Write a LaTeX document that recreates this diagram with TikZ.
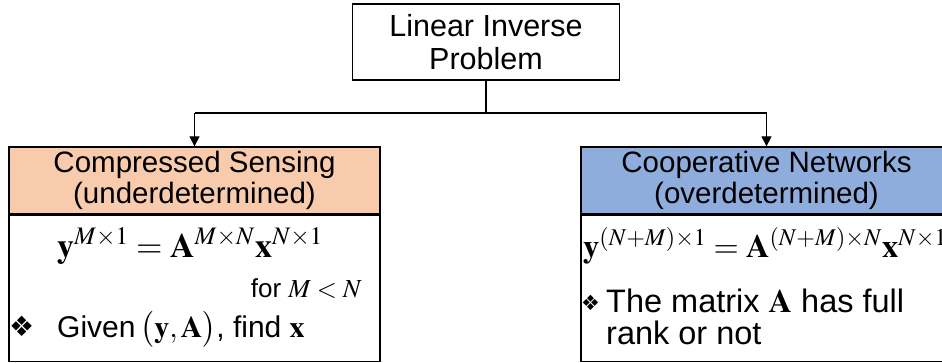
\documentclass[tikz,border=0pt]{standalone}
\usepackage{mathptmx}
\usepackage[no-math]{fontspec}
\setmainfont{Liberation Sans}
\newfontfamily\symfont{DejaVu Sans}
\usetikzlibrary{arrows.meta}

\definecolor{peach}{RGB}{248,203,173}
\definecolor{skyblue}{RGB}{143,173,220}

\tikzset{
  frame/.style={draw=black, line width=1.3pt, inner sep=0pt},
  headtext/.style={font=\fontsize{29.5}{31}\selectfont, align=center, inner sep=0pt},
  eqtext/.style={font=\fontsize{34}{36}\selectfont, inner sep=0pt, anchor=base},
  bodytext/.style={font=\fontsize{30}{32}\selectfont, inner sep=0pt, anchor=base west},
  bullet/.style={font=\symfont\fontsize{28}{30}\selectfont, inner sep=0pt, anchor=base west},
  link/.style={draw=black, line width=1.2pt},
  arrowlink/.style={link, -{Triangle[length=10pt,width=10pt]}}
}

\begin{document}
\begin{tikzpicture}[x=1pt,y=-1pt]
\useasboundingbox (0,0) rectangle (942,362);
\clip (0,0) rectangle (942,362);

% root box
\node[frame, minimum width=267, minimum height=76] (root) at (486,42) {};
\node[headtext, font=\fontsize{30.5}{33}\selectfont] (roottext) at (root.center) {Linear Inverse\\Problem};

% left branch: compressed sensing
\node[frame, fill=peach, minimum width=371, minimum height=67] (csh) at (194.5,180.5) {};
\node[headtext] (cshtext) at (csh.center) {Compressed Sensing\\(underdetermined)};
\node[frame, minimum width=371, minimum height=146, anchor=north] (csb) at (csh.south) {};
\node[eqtext] (cseq) at (190,257)
  {$\mathbf{y}^{M\times1}=\mathbf{A}^{M\times N}\mathbf{x}^{N\times1}$};
\node[font=\fontsize{26}{28}\selectfont, inner sep=0pt, anchor=base east] (csfor) at (362,297)
  {for $M<N$};
\node[bullet] (csbul) at (9,336) {❖};
\node[bodytext] (csgiven) at (57,337)
  {Given\,$\bigl(\mathbf{y},\mathbf{A}\bigr)$, find $\mathbf{x}$};

% right branch: cooperative networks
\node[frame, fill=skyblue, minimum width=371, minimum height=67] (cnh) at (766.5,180.5) {};
\node[headtext] (cnhtext) at (cnh.center) {Cooperative Networks\\(overdetermined)};
\node[frame, minimum width=371, minimum height=146, anchor=north] (cnb) at (cnh.south) {};
\node[eqtext, anchor=base west, font=\fontsize{32.5}{35}\selectfont] (cneq) at (583,257)
  {$\mathbf{y}^{(N+M)\times1}=\mathbf{A}^{(N+M)\times N}\mathbf{x}^{N\times1}$};
\node[bullet, font=\symfont\fontsize{21}{22}\selectfont] (cnbul) at (581,310) {❖};
\node[bodytext, font=\fontsize{32.5}{35}\selectfont] (cnline1) at (606,312) {The matrix $\mathbf{A}$ has full};
\node[bodytext, font=\fontsize{32.5}{35}\selectfont] (cnline2) at (606,344) {rank or not};

% connectors
\coordinate (split) at (root.south |- 0,113);
\coordinate (lcorner) at (csh.north |- split);
\coordinate (rcorner) at (cnh.north |- split);
\draw[link] (root.south) -- (split);
\draw[link] (lcorner) -- (rcorner);
\draw[arrowlink] (lcorner) -- (csh.north);
\draw[arrowlink] (rcorner) -- (cnh.north);
\end{tikzpicture}
\end{document}
